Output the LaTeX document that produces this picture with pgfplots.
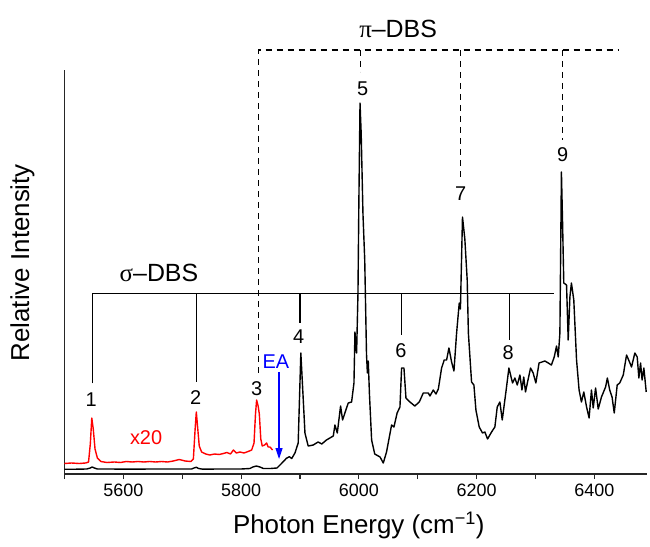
\documentclass[border=0pt]{standalone}
\usepackage{fontspec}
\setmainfont{Liberation Sans}
\newfontfamily\greekfont{Liberation Serif}
\usepackage{pgfplots}
\usepackage{pgfplotstable}
\pgfplotsset{compat=1.18}
\usetikzlibrary{arrows.meta}

% black trace: photon energy (cm-1), relative intensity (arb.)
\pgfplotstableread{
E h
5500 4.8
5520 4.8
5538 5
5544 6
5547 7
5551 6
5556 5
5580 5
5600 4.8
5650 5
5700 5
5716 5
5720 6
5724 6.7
5728 5.5
5735 4.8
5760 5
5800 5
5815 5.5
5820 7
5826 8
5832 7
5838 5.5
5850 5.5
5861 6
5869 10.7
5877 15.7
5882 17.3
5886 15.5
5891.5 21
5897 31
5901.5 121
5904.5 87
5908.5 41
5914 28
5922.6 29
5928 31
5931 32
5937 30
5945 34
5956.6 38
5959.4 49
5963.4 41
5969 68
5972.4 54
5978 64
5982 71
5987.7 72
5991.7 91
5993.4 142
5996.2 121
5998.5 180
6000 270
6002 371
6004 340
6007 260
6010 214
6013 120
6014.5 101
6016 113
6018 80
6021.7 34
6027 20
6036 17
6041.5 11
6047 22
6055.6 49
6059.6 47
6065 61
6069.8 67
6072.6 106
6076.6 106
6080 76
6086.8 72
6095 68
6102.6 72
6109.4 81
6118 81
6120.7 78
6126.4 84
6131 80
6135 85
6140.5 106
6145 114
6149 114
6153 126
6157.5 112
6161.5 103
6166 141
6170.5 171
6172.5 165
6176 257
6180 235
6184 194
6186 141
6191.4 92
6195.4 89
6198.8 64
6204.4 47
6210 41
6214 42
6218.6 35
6225.4 42
6231 47
6235 67
6239.5 72
6243.5 54
6249.7 82
6254.8 106
6261 91
6265 96
6269 89
6273.5 99
6277 84
6280 97
6283 82
6286.5 92
6291.6 106
6296 101
6300.6 91
6306 111
6316 113
6321.6 111
6327 109
6331.8 117
6335.7 128
6338.6 117
6341.4 141
6344 302
6346 250
6348 191
6352.7 189
6355.5 134
6358.4 177
6361 191
6365 174
6369.7 114
6374 84
6378 72
6382 82
6386.7 67
6391 56
6395 84
6398 66
6402 86
6406.5 65
6412 77
6419 87
6422 96
6426 84
6430 77
6433.7 61
6438.7 89
6443 91
6449 99
6454.6 119
6460.3 111
6463 107
6468.7 121
6472.7 117
6475.5 96
6478.4 111
6481 94
6484 106
6488 82
}\blacktrace

% red trace (x20, offset)
\pgfplotstableread{
E h
5500 10.5
5512 11
5525 10.5
5536 11
5541 12
5544 30
5546.5 56
5549 45
5552 25
5556 16
5562 12.5
5572 11.5
5585 12
5595 11.5
5605 12.5
5615 12
5625 12.5
5635 12
5645 12.5
5655 12
5665 12.5
5675 12
5685 13
5695 14.5
5705 13
5715 12.5
5719 15
5722 45
5724 62
5726.5 45
5729 28
5733 22
5740 20
5747 19
5755 20
5763 19.5
5770 20.5
5776 21.5
5782 20
5787 24
5792 21
5798 22
5805 21
5812 22.5
5818 24
5822 31
5824.5 60
5826.4 74
5829 68
5831 60
5833.5 35
5836 28
5840 29
5843.4 31
5846 27
5849 27
5853.6 24
}\redtrace

\begin{document}
\begin{tikzpicture}
\begin{axis}[
  scale only axis, width=583bp, height=404bp,
  xmin=5500, xmax=6490, ymin=0, ymax=404,
  axis x line*=bottom, axis y line*=left,
  axis line style={-, line width=1.3bp, black!85},
  ytick=\empty,
  xtick={5600,5800,6000,6200,6400},
  minor xtick={5500,5700,5900,6100,6300},
  tick align=outside, major tick length=5bp, minor tick length=5bp,
  tick style={line width=1.1bp, black!85},
  minor tick style={line width=1.1bp, black!85},
  xticklabel style={font=\fontsize{18}{20}\selectfont, /pgf/number format/1000 sep={}, yshift=-1bp},
  /pgf/number format/assume math mode=true,
  xlabel={Photon Energy (cm\textsuperscript{−1})},
  ylabel={Relative Intensity},
  xlabel style={font=\fontsize{26}{30}\selectfont, at={(axis description cs:0.505,0)}, anchor=center, yshift=-51bp},
  ylabel style={font=\fontsize{26}{30}\selectfont, at={(axis description cs:0,0.523)}, anchor=center, yshift=42bp},
  clip=false,
]
\addplot[red, line width=1.4bp, line join=round] table[x=E, y=h] {\redtrace};
\addplot[black, line width=1.4bp, line join=round] table[x=E, y=h] {\blacktrace};

% sigma-DBS comb
\draw[line width=1.2bp] (5547.4,90.7) -- (5547.4,180.7) -- (6331.7,180.7);
\draw[line width=1.2bp] (5724,92) -- (5724,180.7);
\draw[line width=1.2bp] (5900,151) -- (5900,180.7);
\draw[line width=1.2bp] (6072.7,139) -- (6072.7,180.7);
\draw[line width=1.2bp] (6255.4,134) -- (6255.4,180.7);
\node[font=\fontsize{25}{28}\selectfont] at (5660.6,201.3) {{\greekfont σ}–DBS};

% pi-DBS comb
\draw[line width=1.2bp, dash pattern=on 6bp off 5bp] (5829.9,101) -- (5829.9,424) -- (6440,424);
\draw[line width=1.2bp, dash pattern=on 6bp off 5bp] (6003,424) -- (6003,402);
\draw[line width=1.2bp, dash pattern=on 6bp off 5bp] (6172.8,424) -- (6172.8,296);
\draw[line width=1.2bp, dash pattern=on 6bp off 5bp] (6345.3,424) -- (6345.3,334);
\node[font=\fontsize{25}{28}\selectfont] at (6066.7,445) {{\greekfont π}–DBS};

% peak numbers
\begin{scope}[every node/.style={font=\fontsize{20}{22}\selectfont}]
\node at (5545.4,74) {1};
\node at (5723,76.3) {2};
\node at (5826.5,85.7) {3};
\node at (5898,137) {4};
\node at (6006.5,385.7) {5};
\node at (6071.5,123.3) {6};
\node at (6172.8,280) {7};
\node at (6253.6,121) {8};
\node at (6346,319.7) {9};
\end{scope}

% electron affinity
\node[blue, font=\fontsize{20}{22}\selectfont] at (5859,112) {EA};
\draw[blue, line width=1.3bp, -{Triangle[length=11bp, width=7bp]}] (5864.5,102) -- (5864.5,15);
\node[red, font=\fontsize{20}{22}\selectfont] at (5638.7,36) {x20};
\end{axis}
\pgfresetboundingbox
\path[use as bounding box] (-64.4bp,-73bp) rectangle (585.6bp,474bp);
\end{tikzpicture}
\end{document}
